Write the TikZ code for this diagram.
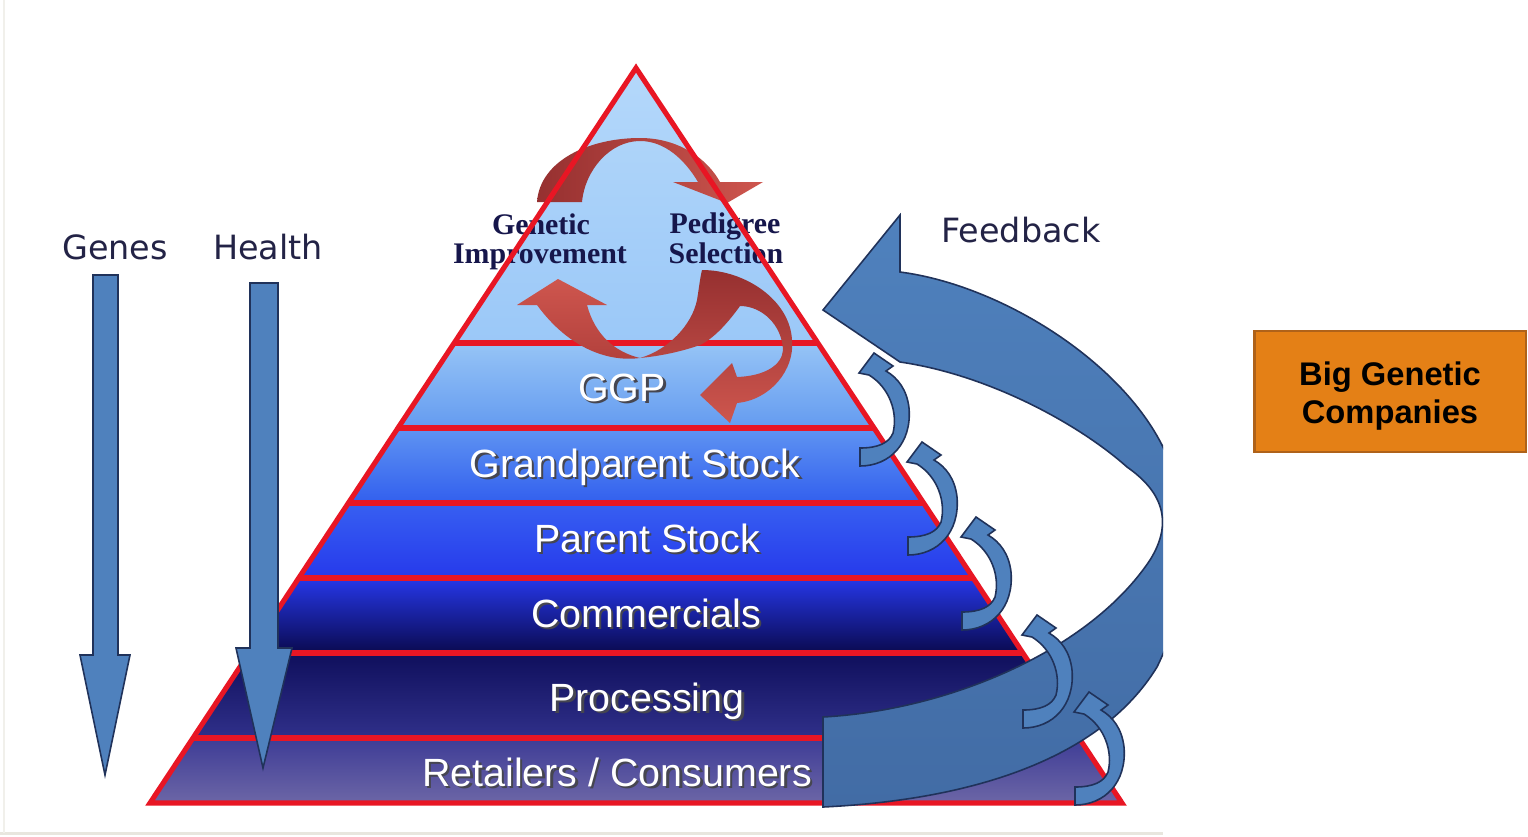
\documentclass[tikz,border=0pt]{standalone}
\usepackage{fontspec}
\newfontfamily\dejav{DejaVu Sans}
\newfontfamily\libsans{Liberation Sans}
\newfontfamily\libserif{Liberation Serif}
\definecolor{pyrred}{RGB}{232,22,36}
\definecolor{fbblue}{RGB}{79,129,189}
\definecolor{fbbluedark}{RGB}{66,108,165}
\definecolor{fbedge}{RGB}{32,50,90}
\definecolor{shadowgray}{RGB}{70,70,80}
\definecolor{serifnavy}{RGB}{22,22,75}
\definecolor{labelnavy}{RGB}{35,35,70}
\definecolor{boxorange}{RGB}{228,128,22}
\definecolor{boxedge}{RGB}{175,98,25}
\definecolor{reddark}{RGB}{150,48,48}
\definecolor{redlight}{RGB}{206,86,78}
\definecolor{framegray}{RGB}{232,230,222}
\newcommand\smallfbarrow[2]{%
  \begin{scope}[shift={(#1,#2)}]
    \filldraw[bluearrow] (0,0) -- (0,18) .. controls (30,18) and (52,-5) .. (49,-40)
      .. controls (47,-58) and (38,-70) .. (26,-77) -- (33,-82) -- (14,-95) -- (-1,-75)
      -- (9,-73) .. controls (30,-60) and (38,-35) .. (33,-15)
      .. controls (29,-5) and (18,0) .. (0,0) -- cycle;
  \end{scope}}
\begin{document}
\begin{tikzpicture}[x=0.01cm,y=-0.01cm,
  redline/.style={draw=pyrred,line width=1.45pt},
  bluearrow/.style={fill=fbblue,draw=fbedge,line width=0.45pt,line join=miter},
  layertext/.style={text=white,font=\libsans\fontsize{11.2}{13}\selectfont,inner sep=0pt,anchor=base},
  layershadow/.style={text=shadowgray,font=\libsans\fontsize{11.2}{13}\selectfont,inner sep=0pt,anchor=base},
  serifbold/.style={text=serifnavy,font=\libserif\bfseries\fontsize{8.5}{10}\selectfont,inner sep=0pt,anchor=base},
  sanslabel/.style={text=labelnavy,font=\dejav\fontsize{9.5}{11}\selectfont,inner sep=0pt,anchor=base},
  boxtext/.style={text=black,font=\libsans\bfseries\fontsize{9.3}{11}\selectfont,inner sep=0pt,anchor=base}
]
\useasboundingbox (0,0) rectangle (1528,836);
\fill[white] (0,0) rectangle (1528,836);
% faint frame of the original figure
\draw[framegray,line width=0.85pt] (0,833) -- (1163,833);
\draw[framegray!60,line width=0.4pt] (4,0) -- (4,833);

% pyramid layers
\coordinate (apex) at (636,68);
\coordinate (bl) at (150,803);
\coordinate (br) at (1122,803);
\shade[top color={rgb,255:red,180;green,216;blue,250},bottom color={rgb,255:red,155;green,200;blue,248}]
  (apex) -- (817.8,343) -- (454.2,343) -- cycle;
\shade[top color={rgb,255:red,150;green,196;blue,246},bottom color={rgb,255:red,100;green,155;blue,240}]
  (454.2,343) -- (817.8,343) -- (874,428) -- (398,428) -- cycle;
\shade[top color={rgb,255:red,95;green,148;blue,242},bottom color={rgb,255:red,50;green,95;blue,238}]
  (398,428) -- (874,428) -- (923.6,503) -- (348.4,503) -- cycle;
\shade[top color={rgb,255:red,55;green,95;blue,242},bottom color={rgb,255:red,38;green,58;blue,235}]
  (348.4,503) -- (923.6,503) -- (973.2,578) -- (298.8,578) -- cycle;
\shade[top color={rgb,255:red,38;green,55;blue,232},middle color={rgb,255:red,28;green,32;blue,200},bottom color={rgb,255:red,10;green,10;blue,80}]
  (298.8,578) -- (973.2,578) -- (1022.8,653) -- (249.2,653) -- cycle;
\shade[top color={rgb,255:red,15;green,15;blue,92},bottom color={rgb,255:red,48;green,48;blue,138}]
  (249.2,653) -- (1022.8,653) -- (1079,738) -- (193,738) -- cycle;
\shade[top color={rgb,255:red,62;green,60;blue,150},bottom color={rgb,255:red,108;green,102;blue,166}]
  (193,738) -- (1079,738) -- (br) -- (bl) -- cycle;

% layer separators
\draw[redline] (454.2,343) -- (817.8,343);
\draw[redline] (398,428) -- (874,428);
\draw[redline] (348.4,503) -- (923.6,503);
\draw[redline] (298.8,578) -- (973.2,578);
\draw[redline] (249.2,653) -- (1022.8,653);
\draw[redline] (193,738) -- (1079,738);

% red cycle arrows
\shade[left color=reddark,right color=redlight]
  (537,202) .. controls (540,160) and (590,138) .. (640,138)
  .. controls (680,138) and (708,160) .. (720,182) -- (763,182) -- (727,203) -- (673,182)
  -- (698,182) .. controls (685,160) and (665,141) .. (640,141)
  .. controls (610,141) and (585,170) .. (582,202) -- cycle;
\shade[top color=reddark,bottom color=redlight]
  (640,358) .. controls (668,350) and (692,325) .. (697,300)
  .. controls (699,288) and (700,278) .. (702,270)
  .. controls (745,270) and (790,300) .. (792,340)
  .. controls (795,370) and (770,400) .. (737,403) -- (730,423) -- (700,395) -- (732,363)
  -- (737,377) .. controls (765,376) and (782,365) .. (783,350)
  .. controls (782,325) and (762,306) .. (740,306)
  .. controls (730,320) and (715,338) .. (700,345)
  .. controls (680,352) and (660,356) .. (640,358) -- cycle;
\shade[top color=redlight,bottom color={rgb,255:red,178;green,64;blue,60}]
  (558,279) -- (607,305) -- (587,305) .. controls (595,335) and (615,352) .. (640,358)
  .. controls (610,362) and (570,350) .. (537,305) -- (517,305) -- cycle;

% texts in the pyramid
\node[serifbold] (gen1) at (541,234) {Genetic};
\node[serifbold] (gen2) at (540,263) {Improvement};
\node[serifbold] (ped1) at (725,233) {Pedigree};
\node[serifbold] (ped2) at (726,263) {Selection};

\node[layershadow] (ggps) at (624.5,403) {GGP};
\node[layertext] (ggp) at (622,401) {GGP};
\node[layershadow] (gps) at (637.5,479) {Grandparent Stock};
\node[layertext] (gp) at (635,477) {Grandparent Stock};
\node[layershadow] (ps) at (649.5,554) {Parent Stock};
\node[layertext] (p) at (647,552) {Parent Stock};
\node[layershadow] (coms) at (648.5,629) {Commercials};
\node[layertext] (com) at (646,627) {Commercials};
\node[layershadow] (pros) at (649.5,713) {Processing};
\node[layertext] (pro) at (647,711) {Processing};
\node[layershadow] (rets) at (619.5,788) {Retailers / Consumers};
\node[layertext] (ret) at (617,786) {Retailers / Consumers};

% pyramid outline
\draw[redline,line join=miter] (apex) -- (br) -- (bl) -- cycle;

% Genes and Health arrows
\filldraw[bluearrow] (93,275) -- (118,275) -- (118,655) -- (130,655) -- (105,775) -- (80,655) -- (93,655) -- cycle;
\filldraw[bluearrow] (250,283) -- (278,283) -- (278,648) -- (292,648) -- (263,768) -- (236,648) -- (250,648) -- cycle;

% big feedback arrow (cut at the figure's right edge)
\begin{scope}
  \clip (0,0) rectangle (1163,836);
  \shade[top color=fbblue,bottom color=fbbluedark]
    (823,717) .. controls (950,710) and (1090,650) .. (1150,560)
    .. controls (1175,520) and (1160,490) .. (1127,467)
    .. controls (1080,425) and (990,375) .. (900,362)
    -- (823,310) -- (900,215) -- (900,272)
    .. controls (1000,285) and (1120,360) .. (1163,447)
    .. controls (1195,520) and (1190,600) .. (1157,667)
    .. controls (1100,760) and (970,800) .. (823,807) -- cycle;
  \draw[fbedge,line width=0.45pt,line join=miter]
    (823,717) .. controls (950,710) and (1090,650) .. (1150,560)
    .. controls (1175,520) and (1160,490) .. (1127,467)
    .. controls (1080,425) and (990,375) .. (900,362)
    -- (823,310) -- (900,215) -- (900,272)
    .. controls (1000,285) and (1120,360) .. (1163,447)
    .. controls (1195,520) and (1190,600) .. (1157,667)
    .. controls (1100,760) and (970,800) .. (823,807) -- cycle;
\end{scope}

% small feedback arrows
\smallfbarrow{860}{448}
\smallfbarrow{908}{537}
\smallfbarrow{962}{612}
\smallfbarrow{1023}{710}
\smallfbarrow{1075}{787}

% labels
\node[sanslabel] (genes) at (115,259) {Genes};
\node[sanslabel] (health) at (268,259) {Health};
\node[sanslabel] (feedback) at (1021,242) {Feedback};

% company box
\node[draw=boxedge,fill=boxorange,line width=0.6pt,minimum width=2.71cm,minimum height=1.21cm,inner sep=0pt] (box) at (1390,391.5) {};
\node[boxtext] (bgc1) at (1390,385) {Big Genetic};
\node[boxtext] (bgc2) at (1390,423) {Companies};
\end{tikzpicture}
\end{document}
